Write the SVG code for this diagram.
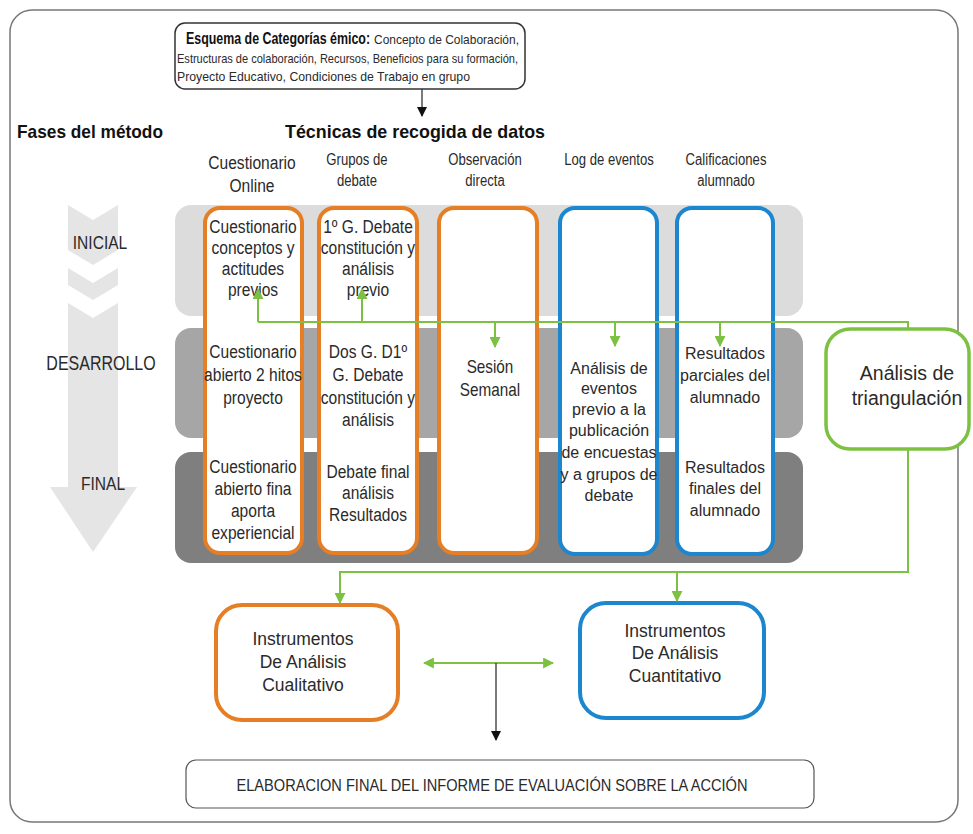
<svg xmlns="http://www.w3.org/2000/svg" width="973" height="834" viewBox="0 0 973 834">
<style>
.n{font-family:"Liberation Sans",Arial,sans-serif;fill:#2a2a2a;text-anchor:middle;font-size:19px}
.h{font-size:16px}
.b{font-family:"Liberation Sans",Arial,sans-serif;font-weight:bold;font-size:19px;fill:#111}
.g{font-family:"Liberation Sans",Arial,sans-serif;fill:#2a2a2a;text-anchor:middle}
.s{font-family:"Liberation Sans",Arial,sans-serif;fill:#2a2a2a;font-size:13px}
.or{fill:#fff;stroke:#e57e25;stroke-width:4}
.bl{fill:#fff;stroke:#1c86cf;stroke-width:4}
.gl{fill:none;stroke:#7dc142;stroke-width:2}
.kl{fill:none;stroke:#333;stroke-width:1.3}
</style>
<defs>
<marker id="ga" viewBox="0 0 10 10" refX="9" refY="5" markerWidth="11" markerHeight="11" markerUnits="userSpaceOnUse" orient="auto-start-reverse"><path d="M0,0 L10,5 L0,10 z" fill="#7dc142"/></marker>
<marker id="ka" viewBox="0 0 10 10" refX="9" refY="5" markerWidth="10" markerHeight="10" markerUnits="userSpaceOnUse" orient="auto"><path d="M0,0 L10,5 L0,10 z" fill="#111"/></marker>
</defs>
<rect x="0" y="0" width="973" height="834" fill="#fff"/>
<rect x="10" y="10" width="948" height="812" rx="22" fill="none" stroke="#777" stroke-width="1.5"/>

<g id="esquema">
<rect x="175" y="23" width="350" height="66" rx="10" fill="#fff" stroke="#333" stroke-width="1.5"/>
<text x="186" y="44" class="b" style="font-size:17px" transform="matrix(0.73,0,0,1,50.22,0)">Esquema de Categorías émico:</text>
<text x="374" y="44" class="s" textLength="145" lengthAdjust="spacingAndGlyphs">Concepto de Colaboración,</text>
<text x="177" y="63" class="s" textLength="341" lengthAdjust="spacingAndGlyphs">Estructuras de colaboración, Recursos, Beneficios para su formación,</text>
<text x="177" y="81" class="s" textLength="293" lengthAdjust="spacingAndGlyphs">Proyecto Educativo, Condiciones de Trabajo en grupo</text>
</g>

<g id="titles">
<text x="17" y="138" class="b" textLength="146" lengthAdjust="spacingAndGlyphs">Fases del método</text>
<text x="285" y="138" class="b" textLength="260" lengthAdjust="spacingAndGlyphs">Técnicas de recogida de datos</text>
</g>

<g id="phase-arrow">
<polygon points="68,205 93,220 118,205 118,250 93,265 68,250" fill="#e5e5e5"/>
<polygon points="68,268 93,283 118,268 118,285 93,300 68,285" fill="#e5e5e5"/>
<polygon points="68,303 93,318 118,303 118,487 137,487 93,552 50,487 68,487" fill="#e5e5e5"/>
<text x="100" y="249" class="n" transform="matrix(0.82,0,0,1,18,0)">INICIAL</text>
<text x="101" y="370" class="n" style="font-size:19.5px" transform="matrix(0.82,0,0,1,18.18,0)">DESARROLLO</text>
<text x="103" y="490" class="n" transform="matrix(0.82,0,0,1,18.54,0)">FINAL</text>
</g>

<g id="bands">
<rect x="175" y="205" width="628" height="111" rx="16" fill="#dcdcdc"/>
<rect x="175" y="328" width="628" height="110" rx="16" fill="#a6a6a6"/>
<rect x="175" y="452" width="628" height="111" rx="16" fill="#7f7f7f"/>
</g>

<g id="headers">
<g transform="matrix(0.82,0,0,1,45.36,0)">
<text x="252" y="169" class="n">Cuestionario</text>
<text x="252" y="192" class="n">Online</text>
</g>
<g transform="matrix(0.82,0,0,1,64.26,0)">
<text x="357" y="165" class="n h">Grupos de</text>
<text x="357" y="186" class="n h">debate</text>
</g>
<g transform="matrix(0.82,0,0,1,87.3,0)">
<text x="485" y="165" class="n h">Observación</text>
<text x="485" y="186" class="n h">directa</text>
</g>
<g transform="matrix(0.82,0,0,1,109.62,0)">
<text x="609" y="165" class="n h">Log de eventos</text>
</g>
<g transform="matrix(0.82,0,0,1,130.68,0)">
<text x="726" y="165" class="n h">Calificaciones</text>
<text x="726" y="186" class="n h">alumnado</text>
</g>
</g>

<g id="col-cuestionario">
<rect x="205" y="208" width="97" height="345" rx="15" class="or"/>
<g transform="matrix(0.82,0,0,1,45.54,0)">
<text class="n"><tspan x="253" y="233">Cuestionario</tspan><tspan x="253" y="254">conceptos y</tspan><tspan x="253" y="275">actitudes</tspan><tspan x="253" y="296">previos</tspan></text>
<text class="n"><tspan x="253" y="358">Cuestionario</tspan><tspan x="253" y="381">abierto 2 hitos</tspan><tspan x="253" y="404">proyecto</tspan></text>
<text class="n"><tspan x="253" y="473">Cuestionario</tspan><tspan x="253" y="495">abierto fina</tspan><tspan x="253" y="517">aporta</tspan><tspan x="253" y="539">experiencial</tspan></text>
</g>
</g>

<g id="col-grupos">
<rect x="319" y="208" width="98" height="345" rx="15" class="or"/>
<g transform="matrix(0.82,0,0,1,66.24,0)">
<text class="n"><tspan x="368" y="233">1º G. Debate</tspan><tspan x="368" y="254">constitución y</tspan><tspan x="368" y="275">análisis</tspan><tspan x="368" y="296">previo</tspan></text>
<text class="n"><tspan x="368" y="358">Dos G. D1º</tspan><tspan x="368" y="381">G. Debate</tspan><tspan x="368" y="404">constitución y</tspan><tspan x="368" y="426">análisis</tspan></text>
<text class="n"><tspan x="368" y="478">Debate final</tspan><tspan x="368" y="499">análisis</tspan><tspan x="368" y="521">Resultados</tspan></text>
</g>
</g>

<g id="col-observacion">
<rect x="439" y="208" width="98" height="345" rx="15" class="or"/>
<g transform="matrix(0.85,0,0,1,73.5,0)">
<text class="n" style="font-size:18px"><tspan x="490" y="373">Sesión</tspan><tspan x="490" y="396">Semanal</tspan></text>
</g>
</g>

<g id="col-log">
<rect x="560" y="208" width="97" height="346" rx="15" class="bl"/>
<text class="g" style="font-size:16px"><tspan x="609" y="374">Análisis de</tspan><tspan x="609" y="394">eventos</tspan><tspan x="609" y="415">previo a la</tspan><tspan x="609" y="436">publicación</tspan><tspan x="609" y="458">de encuestas</tspan><tspan x="609" y="480">y a grupos de</tspan><tspan x="609" y="501">debate</tspan></text>
</g>

<g id="col-calificaciones">
<rect x="677" y="208" width="96" height="346" rx="15" class="bl"/>
<text class="g" style="font-size:16px"><tspan x="725" y="359">Resultados</tspan><tspan x="725" y="381">parciales del</tspan><tspan x="725" y="403">alumnado</tspan></text>
<text class="g" style="font-size:16px"><tspan x="725" y="473">Resultados</tspan><tspan x="725" y="494">finales del</tspan><tspan x="725" y="516">alumnado</tspan></text>
</g>

<g id="triangulacion">
<rect x="826" y="329" width="143" height="120" rx="24" fill="#fff" stroke="#7dc142" stroke-width="3.5"/>
<text class="g" style="font-size:19.5px"><tspan x="907" y="380">Análisis de</tspan><tspan x="907" y="405">triangulación</tspan></text>
</g>

<g id="cualitativo">
<rect x="216" y="605" width="182" height="115" rx="26" class="or"/>
<text class="g" style="font-size:17.5px"><tspan x="303" y="645">Instrumentos</tspan><tspan x="303" y="668">De Análisis</tspan><tspan x="303" y="691">Cualitativo</tspan></text>
</g>

<g id="cuantitativo">
<rect x="580" y="603" width="184" height="115" rx="26" class="bl"/>
<text class="g" style="font-size:17.5px"><tspan x="675" y="637">Instrumentos</tspan><tspan x="675" y="659">De Análisis</tspan><tspan x="675" y="682">Cuantitativo</tspan></text>
</g>

<g id="informe">
<rect x="186" y="760" width="628" height="48" rx="10" fill="#fff" stroke="#555" stroke-width="1.2"/>
<text x="492" y="791" class="n" style="font-size:17px" textLength="511" lengthAdjust="spacingAndGlyphs">ELABORACION FINAL DEL INFORME DE EVALUACIÓN SOBRE LA ACCIÓN</text>
</g>

<g id="connectors">
<path class="kl" d="M422,89 V116" marker-end="url(#ka)"/>
<path class="gl" d="M258,322 H908 V329"/>
<path class="gl" d="M258,322 V289" marker-end="url(#ga)"/>
<path class="gl" d="M362,322 V289" marker-end="url(#ga)"/>
<path class="gl" d="M495,322 V347" marker-end="url(#ga)"/>
<path class="gl" d="M615,322 V346" marker-end="url(#ga)"/>
<path class="gl" d="M720,322 V346" marker-end="url(#ga)"/>
<path class="gl" d="M908,449 V572 H340 V603" marker-end="url(#ga)"/>
<path class="gl" d="M677,572 V601" marker-end="url(#ga)"/>
<path class="gl" d="M424,663 H553" marker-start="url(#ga)" marker-end="url(#ga)"/>
<path class="kl" d="M496,663 V740" marker-end="url(#ka)"/>
</g>
</svg>
